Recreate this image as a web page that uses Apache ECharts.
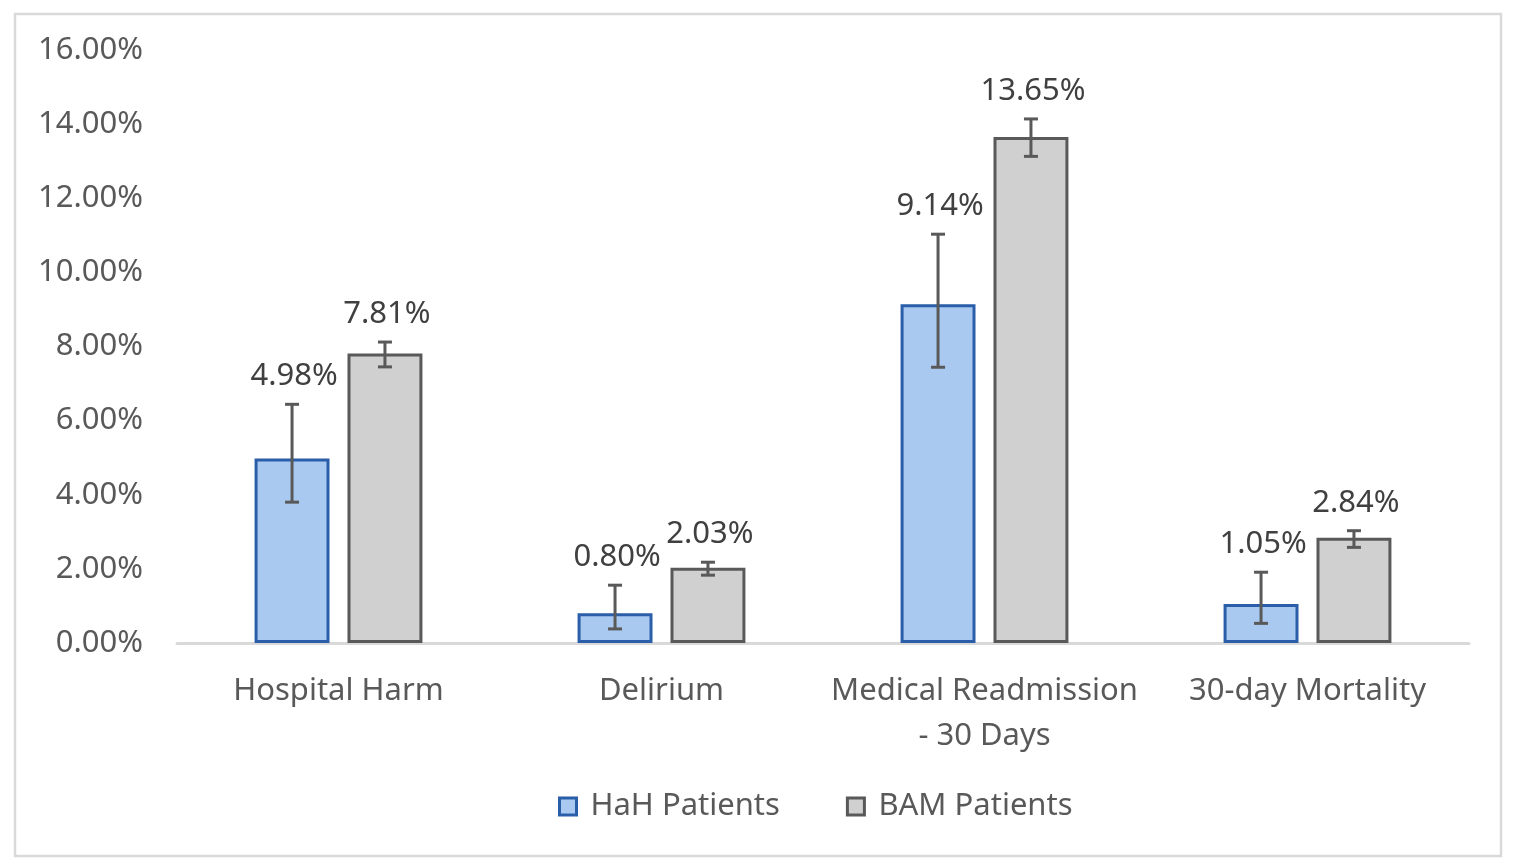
<!DOCTYPE html>
<html>
<head>
<meta charset="utf-8">
<script src="https://cdn.jsdelivr.net/npm/echarts@6/dist/echarts.min.js"></script>
<style>
  html, body { margin: 0; padding: 0; background: #fff; }
  #chart { width: 1514px; height: 868px; }
</style>
</head>
<body>
<div id="chart"></div>
<script>
// values in percent
const categories = ['Hospital Harm', 'Delirium', 'Medical Readmission\n- 30 Days', '30-day Mortality'];
const hahValues = [4.98, 0.80, 9.14, 1.05];
const hahLow = [3.80, 0.38, 7.44, 0.53];
const hahHigh = [6.44, 1.56, 11.03, 1.91];
const bamValues = [7.81, 2.03, 13.65, 2.84];
const bamLow = [7.45, 1.83, 13.13, 2.58];
const bamHigh = [8.12, 2.18, 14.14, 3.03];
const yTicks = [0, 2, 4, 6, 8, 10, 12, 14, 16];

const FONT = 'Noto Sans';
const FS = 31;
const BAR_W = 0.232;   // fraction of category band
const BAR_GAP = 0.24;  // fraction of bar width

const chart = echarts.init(document.getElementById('chart'));

// error bar + data label drawn on top of each bar
const errorSeries = (name, values, low, high, side) => ({
  name: name,
  type: 'custom',
  z: 10,
  data: values.map((v, i) => [i, v, low[i], high[i]]),
  renderItem: (params, api) => {
    const band = api.size([1, 0])[0];
    const bw = band * BAR_W;
    const dx = side * (bw + bw * BAR_GAP) / 2;
    const top = api.coord([api.value(0), api.value(3)]);
    const bot = api.coord([api.value(0), api.value(2)]);
    const x = top[0] + dx;
    const cap = 7;
    const st = { stroke: '#595959', lineWidth: 3 };
    return {
      type: 'group',
      children: [
        { type: 'line', shape: { x1: x, y1: top[1], x2: x, y2: bot[1] }, style: st },
        { type: 'line', shape: { x1: x - cap, y1: top[1], x2: x + cap, y2: top[1] }, style: st },
        { type: 'line', shape: { x1: x - cap, y1: bot[1], x2: x + cap, y2: bot[1] }, style: st },
        {
          type: 'text',
          style: {
            x: x + 2, y: top[1] - 28,
            text: api.value(1).toFixed(2) + '%',
            fill: '#404040', font: FS + 'px "' + FONT + '"',
            align: 'center', verticalAlign: 'middle'
          }
        }
      ]
    };
  }
});

const option = {
  animation: false,
  textStyle: { fontFamily: FONT },
  graphic: [{
    type: 'rect',
    shape: { x: 15, y: 14, width: 1486, height: 842 },
    style: { fill: 'none', stroke: '#d9d9d9', lineWidth: 2.5 },
    silent: true
  }],
  grid: { left: 177, right: 45, top: 50, bottom: 225 },
  legend: {
    data: ['HaH Patients', 'BAM Patients'],
    top: 786,
    left: 553,
    itemWidth: 17,
    itemHeight: 17,
    itemGap: 66,
    icon: 'rect',
    itemStyle: { borderWidth: 3 },
    textStyle: { fontSize: FS, color: '#595959', fontFamily: FONT, padding: [0, 0, 0, 9] }
  },
  xAxis: {
    type: 'category',
    data: categories,
    axisLine: { lineStyle: { color: '#d9d9d9', width: 3 } },
    axisTick: { show: false },
    axisLabel: { interval: 0, fontSize: FS, color: '#595959', margin: 26, lineHeight: 45, fontFamily: FONT }
  },
  yAxis: {
    type: 'value',
    min: yTicks[0],
    max: yTicks[yTicks.length - 1],
    interval: 2,
    splitLine: { show: false },
    axisLine: { show: false },
    axisTick: { show: false },
    axisLabel: {
      fontSize: FS, color: '#595959', margin: 34, fontFamily: FONT,
      formatter: (v) => v.toFixed(2) + '%'
    }
  },
  series: [
    {
      name: 'HaH Patients',
      type: 'bar',
      data: hahValues,
      barWidth: (BAR_W * 100) + '%',
      barGap: (BAR_GAP * 100) + '%',
      itemStyle: { color: '#a9c9f1', borderColor: '#2a5ea8', borderWidth: 3 }
    },
    {
      name: 'BAM Patients',
      type: 'bar',
      data: bamValues,
      barWidth: (BAR_W * 100) + '%',
      itemStyle: { color: '#d0d0d0', borderColor: '#595959', borderWidth: 3 }
    },
    errorSeries('HaH err', hahValues, hahLow, hahHigh, -1),
    errorSeries('BAM err', bamValues, bamLow, bamHigh, 1)
  ]
};

chart.setOption(option);
</script>
</body>
</html>
